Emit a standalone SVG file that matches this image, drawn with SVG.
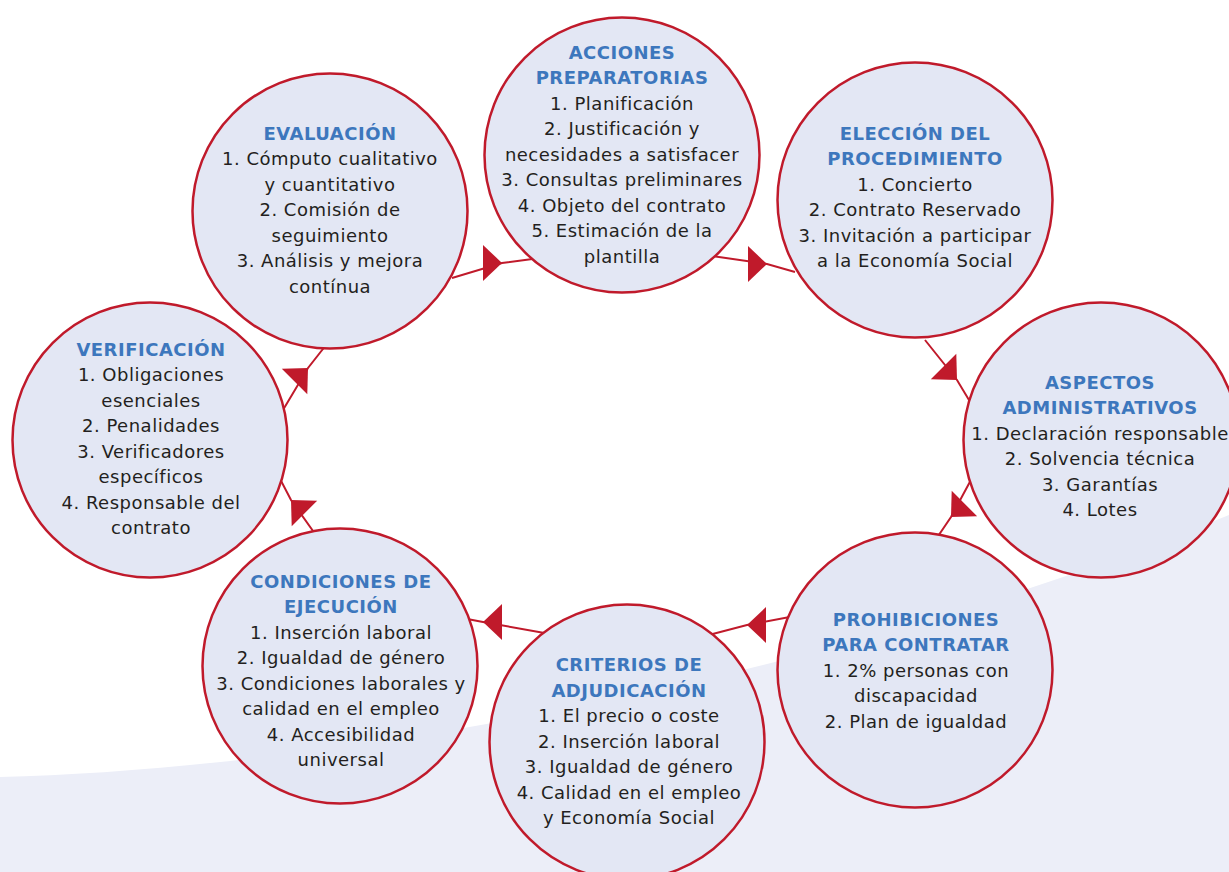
<svg xmlns="http://www.w3.org/2000/svg" xmlns:xlink="http://www.w3.org/1999/xlink" width="1229" height="872" viewBox="0 0 1229 872">
<style>
.node circle{fill:#e3e7f4;stroke:#c01a2b;stroke-width:2.5}
.node text{font-family:"DejaVu Sans","Liberation Sans",sans-serif;font-size:18px;letter-spacing:0.5px;fill:#231f20;text-anchor:middle}
.node .t{font-weight:bold;fill:#3d77bd}
.conn polyline{fill:none;stroke:#c01a2b;stroke-width:2}
.conn use{fill:#c01a2b}
</style>
<defs>
<path id="ah" d="M0,0 L-19,-18 L-19,18 Z"/>
</defs>
<rect width="1229" height="872" fill="#ffffff"/>
<path d="M0,777 C300,770 800,690 1229,515 L1229,872 L0,872 Z" fill="#eceef8"/>
<g id="connectors" class="conn">
<polyline points="452,278 502,263 540,258"/>
<use xlink:href="#ah" transform="translate(502,263)"/>
<polyline points="712,256 767,264 795,272"/>
<use xlink:href="#ah" transform="translate(767,264)"/>
<polyline points="925,340 957,380 978,415"/>
<use xlink:href="#ah" transform="translate(957,380) rotate(45)"/>
<polyline points="972,478 951,517 930,548"/>
<use xlink:href="#ah" transform="translate(951,517) rotate(135)"/>
<polyline points="795,616 747,625 705,636"/>
<use xlink:href="#ah" transform="translate(747,625) rotate(180)"/>
<polyline points="550,634 483,622 462,618"/>
<use xlink:href="#ah" transform="translate(483,622) rotate(180)"/>
<polyline points="318,538 291,500 278,475"/>
<use xlink:href="#ah" transform="translate(291,500) rotate(-135)"/>
<polyline points="280,415 308,368 330,340"/>
<use xlink:href="#ah" transform="translate(308,368) rotate(-45)"/>
</g>
<g id="acciones" class="node">
<circle cx="622" cy="155" r="137.5"/>
<text class="t" x="622" y="58.5">ACCIONES</text>
<text class="t" x="622" y="84">PREPARATORIAS</text>
<text x="622" y="109.5">1. Planificación</text>
<text x="622" y="135">2. Justificación y</text>
<text x="622" y="160.5">necesidades a satisfacer</text>
<text x="622" y="186">3. Consultas preliminares</text>
<text x="622" y="211.5">4. Objeto del contrato</text>
<text x="622" y="237">5. Estimación de la</text>
<text x="622" y="262.5">plantilla</text>
</g>
<g id="eleccion" class="node">
<circle cx="915" cy="200" r="137.5"/>
<text class="t" x="915" y="139.5">ELECCIÓN DEL</text>
<text class="t" x="915" y="165">PROCEDIMIENTO</text>
<text x="915" y="190.5">1. Concierto</text>
<text x="915" y="216">2. Contrato Reservado</text>
<text x="915" y="241.5">3. Invitación a participar</text>
<text x="915" y="267">a la Economía Social</text>
</g>
<g id="aspectos" class="node">
<circle cx="1101" cy="440" r="137.5"/>
<text class="t" x="1100" y="388.5">ASPECTOS</text>
<text class="t" x="1100" y="414">ADMINISTRATIVOS</text>
<text x="1100" y="439.5">1. Declaración responsable</text>
<text x="1100" y="465">2. Solvencia técnica</text>
<text x="1100" y="490.5">3. Garantías</text>
<text x="1100" y="516">4. Lotes</text>
</g>
<g id="prohibiciones" class="node">
<circle cx="915" cy="670" r="137.5"/>
<text class="t" x="916" y="625.5">PROHIBICIONES</text>
<text class="t" x="916" y="651">PARA CONTRATAR</text>
<text x="916" y="676.5">1. 2% personas con</text>
<text x="916" y="702">discapacidad</text>
<text x="916" y="727.5">2. Plan de igualdad</text>
</g>
<g id="criterios" class="node">
<circle cx="627" cy="742" r="137.5"/>
<text class="t" x="629" y="671">CRITERIOS DE</text>
<text class="t" x="629" y="696.5">ADJUDICACIÓN</text>
<text x="629" y="722">1. El precio o coste</text>
<text x="629" y="747.5">2. Inserción laboral</text>
<text x="629" y="773">3. Igualdad de género</text>
<text x="629" y="798.5">4. Calidad en el empleo</text>
<text x="629" y="824">y Economía Social</text>
</g>
<g id="condiciones" class="node">
<circle cx="340" cy="666" r="137.5"/>
<text class="t" x="341" y="587.5">CONDICIONES DE</text>
<text class="t" x="341" y="613">EJECUCIÓN</text>
<text x="341" y="638.5">1. Inserción laboral</text>
<text x="341" y="664">2. Igualdad de género</text>
<text x="341" y="689.5">3. Condiciones laborales y</text>
<text x="341" y="715">calidad en el empleo</text>
<text x="341" y="740.5">4. Accesibilidad</text>
<text x="341" y="766">universal</text>
</g>
<g id="verificacion" class="node">
<circle cx="150" cy="440" r="137.5"/>
<text class="t" x="151" y="355.5">VERIFICACIÓN</text>
<text x="151" y="381">1. Obligaciones</text>
<text x="151" y="406.5">esenciales</text>
<text x="151" y="432">2. Penalidades</text>
<text x="151" y="457.5">3. Verificadores</text>
<text x="151" y="483">específicos</text>
<text x="151" y="508.5">4. Responsable del</text>
<text x="151" y="534">contrato</text>
</g>
<g id="evaluacion" class="node">
<circle cx="330" cy="211" r="137.5"/>
<text class="t" x="330" y="139.5">EVALUACIÓN</text>
<text x="330" y="165">1. Cómputo cualitativo</text>
<text x="330" y="190.5">y cuantitativo</text>
<text x="330" y="216">2. Comisión de</text>
<text x="330" y="241.5">seguimiento</text>
<text x="330" y="267">3. Análisis y mejora</text>
<text x="330" y="292.5">contínua</text>
</g>
</svg>
